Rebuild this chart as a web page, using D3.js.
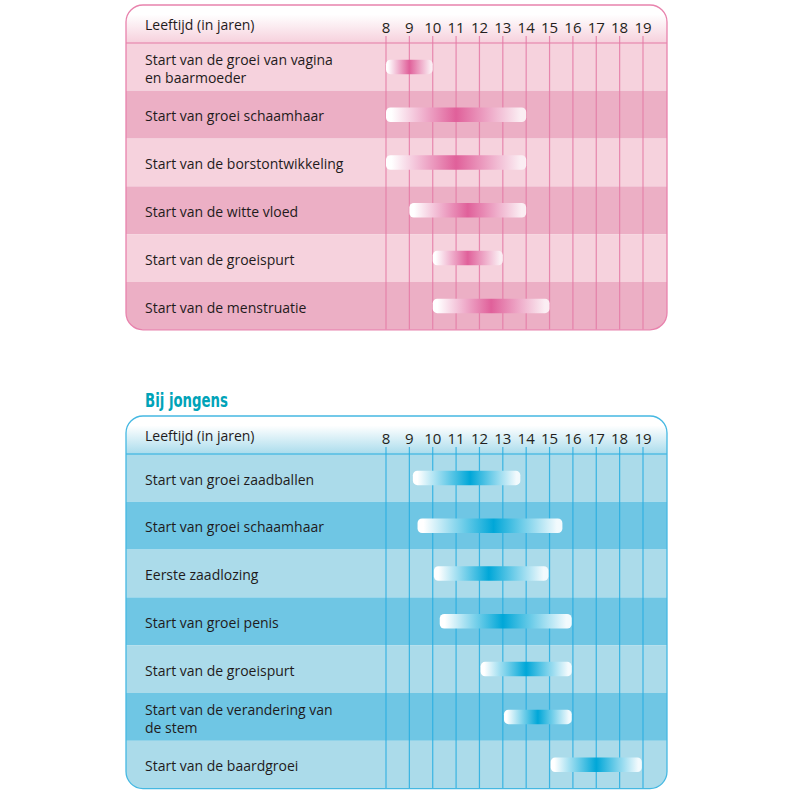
<!DOCTYPE html>
<html>
<head>
<meta charset="utf-8">
<script src="https://cdn.jsdelivr.net/npm/d3@7"></script>
<style>
  html, body { margin: 0; padding: 0; background: #fff; }
  svg { display: block; }
  .lbl { font-family: "Open Sans", "Noto Sans", sans-serif; font-size: 14px; fill: #1f1b1c; }
  .tick { font-family: "Open Sans", "Noto Sans", sans-serif; font-size: 15px; fill: #231f20; }
  .title { font-family: "DejaVu Sans Condensed", "Liberation Sans Narrow", sans-serif; font-weight: bold; font-size: 20px; fill: #00a3b8; }
</style>
</head>
<body>
<svg id="chart" width="792" height="792"></svg>
<script>
// ---------- data ----------
const years = [8, 9, 10, 11, 12, 13, 14, 15, 16, 17, 18, 19];
const headerLabel = "Leeftijd (in jaren)";

const girlsTitle = "Bij meisjes";
const girlsLabels = [
  ["Start van de groei van vagina", "en baarmoeder"],
  ["Start van groei schaamhaar"],
  ["Start van de borstontwikkeling"],
  ["Start van de witte vloed"],
  ["Start van de groeispurt"],
  ["Start van de menstruatie"]
];
const girlsStart = [8, 8, 8, 9, 10, 10];
const girlsEnd   = [10, 14, 14, 14, 13, 15];
const girlsPeak  = [9, 11, 11, 11.5, 11.5, 12.5];

const boysTitle = "Bij jongens";
const boysLabels = [
  ["Start van groei zaadballen"],
  ["Start van groei schaamhaar"],
  ["Eerste zaadlozing"],
  ["Start van groei penis"],
  ["Start van de groeispurt"],
  ["Start van de verandering van", "de stem"],
  ["Start van de baardgroei"]
];
const boysStart = [9.15, 9.35, 10.05, 10.3, 12.05, 13.05, 15.05];
const boysEnd   = [13.75, 15.55, 14.95, 15.95, 15.95, 15.95, 18.95];
const boysPeak  = [11.6, 12.6, 12.4, 13.0, 14.0, 14.5, 17.0];

// ---------- layout ----------
const svg = d3.select("#chart");
const defs = svg.append("defs");
const x = d3.scaleLinear().domain([8, 19]).range([386, 643]);

function panel(opts) {
  const { id, top, rows, title, labels, start, end, peak, c } = opts;
  const left = 126, right = 667, headH = 38, rowH = 47.8;
  const bottom = top + headH + rows * rowH;
  const y = d3.scaleBand().domain(d3.range(rows)).range([top + headH, bottom]).padding(0);

  // title (condensed)
  svg.append("text").attr("class", "title")
    .attr("transform", `translate(145,${top - 9.5}) scale(0.74,1)`)
    .text(title);

  // clip
  defs.append("clipPath").attr("id", "clip-" + id)
    .append("rect").attr("x", left).attr("y", top).attr("width", right - left)
    .attr("height", bottom - top).attr("rx", 17).attr("ry", 17);

  // header gradient
  const hg = defs.append("linearGradient").attr("id", "hg-" + id)
    .attr("x1", 0).attr("y1", 0).attr("x2", 0).attr("y2", 1);
  hg.append("stop").attr("offset", 0).attr("stop-color", "#ffffff");
  hg.append("stop").attr("offset", 0.25).attr("stop-color", "#ffffff");
  hg.append("stop").attr("offset", 1).attr("stop-color", c.head);

  const g = svg.append("g").attr("clip-path", `url(#clip-${id})`);
  g.append("rect").attr("x", left).attr("y", top).attr("width", right - left)
    .attr("height", headH).attr("fill", `url(#hg-${id})`);

  // rows
  g.selectAll("rect.row").data(d3.range(rows)).join("rect")
    .attr("class", "row")
    .attr("x", left).attr("width", right - left)
    .attr("y", i => y(i)).attr("height", y.bandwidth())
    .attr("fill", i => i % 2 === 0 ? c.light : c.dark);

  // header bottom line
  g.append("line").attr("x1", left).attr("x2", right)
    .attr("y1", top + headH).attr("y2", top + headH)
    .attr("stroke", c.grid).attr("stroke-width", 1.2);

  // grid lines
  g.selectAll("line.grid").data(years).join("line")
    .attr("class", "grid")
    .attr("x1", d => x(d)).attr("x2", d => x(d))
    .attr("y1", top + headH - 7).attr("y2", bottom)
    .attr("stroke", c.grid).attr("stroke-width", 1.2).attr("stroke-opacity", 0.85);

  // tick labels
  svg.selectAll(null).data(years).join("text")
    .attr("class", "tick")
    .attr("x", d => x(d)).attr("y", top + 23.5)
    .attr("text-anchor", "middle").attr("dominant-baseline", "middle")
    .text(d => d);

  svg.append("text").attr("class", "lbl").attr("x", 145).attr("y", top + 21)
    .attr("dominant-baseline", "middle").text(headerLabel);

  // row labels
  labels.forEach((lines, i) => {
    const cy = y(i) + y.bandwidth() / 2 + 3;
    const lh = 18;
    lines.forEach((t, k) => {
      svg.append("text").attr("class", "lbl").attr("x", 145)
        .attr("y", cy + (k - (lines.length - 1) / 2) * lh)
        .attr("dominant-baseline", "middle").text(t);
    });
  });

  // bars
  const barH = 14.5;
  start.forEach((s, i) => {
    const e = end[i], p = peak[i];
    const gid = `bg-${id}-${i}`;
    const grad = defs.append("linearGradient").attr("id", gid)
      .attr("gradientUnits", "userSpaceOnUse")
      .attr("x1", x(s)).attr("x2", x(e)).attr("y1", 0).attr("y2", 0);
    const po = (p - s) / (e - s);
    grad.append("stop").attr("offset", 0).attr("stop-color", "#ffffff");
    grad.append("stop").attr("offset", Math.max(0, po * 0.08)).attr("stop-color", "#ffffff");
    grad.append("stop").attr("offset", po).attr("stop-color", c.peak);
    grad.append("stop").attr("offset", Math.min(1, po + (1 - po) * 0.92)).attr("stop-color", c.end);
    grad.append("stop").attr("offset", 1).attr("stop-color", c.end);
    const cy = y(i) + y.bandwidth() / 2;
    g.append("rect")
      .attr("x", x(s)).attr("width", x(e) - x(s))
      .attr("y", cy - barH / 2).attr("height", barH)
      .attr("rx", 4.5).attr("ry", 4.5)
      .attr("fill", `url(#${gid})`);
  });

  // border
  svg.append("rect").attr("x", left).attr("y", top).attr("width", right - left)
    .attr("height", bottom - top).attr("rx", 17).attr("ry", 17)
    .attr("fill", "none").attr("stroke", c.border).attr("stroke-width", 1.3);
}

panel({
  id: "girls", top: 5, rows: 6, title: girlsTitle, labels: girlsLabels,
  start: girlsStart, end: girlsEnd, peak: girlsPeak,
  c: { head: "#f6d0dc", light: "#f6d2dd", dark: "#ecafc5", grid: "#e47aa6",
       peak: "#e0609a", end: "#fbeef3", border: "#e883ad" }
});

panel({
  id: "boys", top: 416, rows: 7, title: boysTitle, labels: boysLabels,
  start: boysStart, end: boysEnd, peak: boysPeak,
  c: { head: "#aadcec", light: "#abdbea", dark: "#6fc6e4", grid: "#26ade0",
       peak: "#00a7d8", end: "#f2fafd", border: "#45b8e2" }
});
</script>
</body>
</html>
